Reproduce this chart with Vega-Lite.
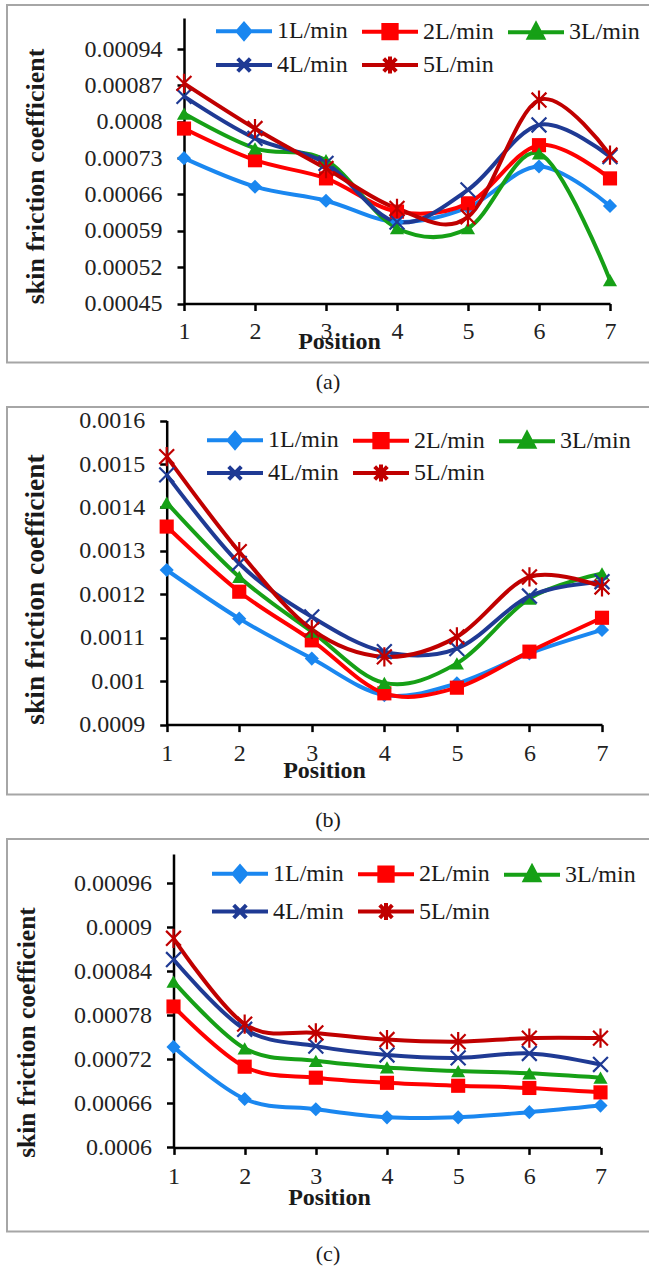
{
  "$schema": "https://vega.github.io/schema/vega-lite/v6.json",
  "background": "white",
  "padding": {"left": 6, "top": 4, "right": 0, "bottom": 0},
  "config": {
    "font": "Liberation Serif",
    "axis": {
      "grid": false,
      "domainColor": "#000000",
      "domainWidth": 2.5,
      "tickColor": "#000000",
      "tickWidth": 2.5,
      "tickSize": 7,
      "labelFont": "Liberation Serif",
      "labelFontSize": 24,
      "labelColor": "#222222",
      "labelOverlap": false,
      "labelFlush": false,
      "titleFont": "Liberation Serif",
      "titleFontWeight": "bold",
      "titleColor": "#1a1a1a",
      "titleAlign": "center",
      "titleBaseline": "middle"
    },
    "legend": {
      "labelFont": "Liberation Serif",
      "labelFontSize": 24,
      "labelColor": "#1a1a1a",
      "labelLimit": 0,
      "labelOffset": 21,
      "symbolSize": 196,
      "symbolOffset": 21,
      "symbolStrokeWidth": 4,
      "symbolOpacity": 1,
      "symbolFillColor": "#000000",
      "symbolStrokeColor": "#000000",
      "columnPadding": 6
    }
  },
  "data": {
    "values": [
      {"panel": "a", "pos": 1, "series": "1L/min", "value": 0.00073},
      {"panel": "a", "pos": 2, "series": "1L/min", "value": 0.000675},
      {"panel": "a", "pos": 3, "series": "1L/min", "value": 0.000648},
      {"panel": "a", "pos": 4, "series": "1L/min", "value": 0.000607},
      {"panel": "a", "pos": 5, "series": "1L/min", "value": 0.000635},
      {"panel": "a", "pos": 6, "series": "1L/min", "value": 0.000714},
      {"panel": "a", "pos": 7, "series": "1L/min", "value": 0.000638},
      {"panel": "a", "pos": 1, "series": "2L/min", "value": 0.000787},
      {"panel": "a", "pos": 2, "series": "2L/min", "value": 0.000726},
      {"panel": "a", "pos": 3, "series": "2L/min", "value": 0.000691},
      {"panel": "a", "pos": 4, "series": "2L/min", "value": 0.000627},
      {"panel": "a", "pos": 5, "series": "2L/min", "value": 0.000643},
      {"panel": "a", "pos": 6, "series": "2L/min", "value": 0.000755},
      {"panel": "a", "pos": 7, "series": "2L/min", "value": 0.000691},
      {"panel": "a", "pos": 1, "series": "3L/min", "value": 0.000816},
      {"panel": "a", "pos": 2, "series": "3L/min", "value": 0.000749},
      {"panel": "a", "pos": 3, "series": "3L/min", "value": 0.000726},
      {"panel": "a", "pos": 4, "series": "3L/min", "value": 0.000595},
      {"panel": "a", "pos": 5, "series": "3L/min", "value": 0.000595},
      {"panel": "a", "pos": 6, "series": "3L/min", "value": 0.000739},
      {"panel": "a", "pos": 7, "series": "3L/min", "value": 0.000495},
      {"panel": "a", "pos": 1, "series": "4L/min", "value": 0.000849},
      {"panel": "a", "pos": 2, "series": "4L/min", "value": 0.000768},
      {"panel": "a", "pos": 3, "series": "4L/min", "value": 0.00072},
      {"panel": "a", "pos": 4, "series": "4L/min", "value": 0.000607},
      {"panel": "a", "pos": 5, "series": "4L/min", "value": 0.000669},
      {"panel": "a", "pos": 6, "series": "4L/min", "value": 0.000794},
      {"panel": "a", "pos": 7, "series": "4L/min", "value": 0.000733},
      {"panel": "a", "pos": 1, "series": "5L/min", "value": 0.000874},
      {"panel": "a", "pos": 2, "series": "5L/min", "value": 0.000787},
      {"panel": "a", "pos": 3, "series": "5L/min", "value": 0.00071},
      {"panel": "a", "pos": 4, "series": "5L/min", "value": 0.000633},
      {"panel": "a", "pos": 5, "series": "5L/min", "value": 0.000617},
      {"panel": "a", "pos": 6, "series": "5L/min", "value": 0.000842},
      {"panel": "a", "pos": 7, "series": "5L/min", "value": 0.000736},
      {"panel": "b", "pos": 1, "series": "1L/min", "value": 0.001256},
      {"panel": "b", "pos": 2, "series": "1L/min", "value": 0.001144},
      {"panel": "b", "pos": 3, "series": "1L/min", "value": 0.001052},
      {"panel": "b", "pos": 4, "series": "1L/min", "value": 0.000968},
      {"panel": "b", "pos": 5, "series": "1L/min", "value": 0.000995},
      {"panel": "b", "pos": 6, "series": "1L/min", "value": 0.001064},
      {"panel": "b", "pos": 7, "series": "1L/min", "value": 0.001118},
      {"panel": "b", "pos": 1, "series": "2L/min", "value": 0.001356},
      {"panel": "b", "pos": 2, "series": "2L/min", "value": 0.001206},
      {"panel": "b", "pos": 3, "series": "2L/min", "value": 0.001094},
      {"panel": "b", "pos": 4, "series": "2L/min", "value": 0.000972},
      {"panel": "b", "pos": 5, "series": "2L/min", "value": 0.000985},
      {"panel": "b", "pos": 6, "series": "2L/min", "value": 0.001068},
      {"panel": "b", "pos": 7, "series": "2L/min", "value": 0.001146},
      {"panel": "b", "pos": 1, "series": "3L/min", "value": 0.001411},
      {"panel": "b", "pos": 2, "series": "3L/min", "value": 0.00124},
      {"panel": "b", "pos": 3, "series": "3L/min", "value": 0.001114},
      {"panel": "b", "pos": 4, "series": "3L/min", "value": 0.000996},
      {"panel": "b", "pos": 5, "series": "3L/min", "value": 0.001041},
      {"panel": "b", "pos": 6, "series": "3L/min", "value": 0.00119},
      {"panel": "b", "pos": 7, "series": "3L/min", "value": 0.001248},
      {"panel": "b", "pos": 1, "series": "4L/min", "value": 0.001475},
      {"panel": "b", "pos": 2, "series": "4L/min", "value": 0.001271},
      {"panel": "b", "pos": 3, "series": "4L/min", "value": 0.001148},
      {"panel": "b", "pos": 4, "series": "4L/min", "value": 0.001068},
      {"panel": "b", "pos": 5, "series": "4L/min", "value": 0.001075},
      {"panel": "b", "pos": 6, "series": "4L/min", "value": 0.001196},
      {"panel": "b", "pos": 7, "series": "4L/min", "value": 0.001229},
      {"panel": "b", "pos": 1, "series": "5L/min", "value": 0.001517},
      {"panel": "b", "pos": 2, "series": "5L/min", "value": 0.001298},
      {"panel": "b", "pos": 3, "series": "5L/min", "value": 0.001119},
      {"panel": "b", "pos": 4, "series": "5L/min", "value": 0.001056},
      {"panel": "b", "pos": 5, "series": "5L/min", "value": 0.001102},
      {"panel": "b", "pos": 6, "series": "5L/min", "value": 0.00124},
      {"panel": "b", "pos": 7, "series": "5L/min", "value": 0.001217},
      {"panel": "c", "pos": 1, "series": "1L/min", "value": 0.000737},
      {"panel": "c", "pos": 2, "series": "1L/min", "value": 0.000666},
      {"panel": "c", "pos": 3, "series": "1L/min", "value": 0.000652},
      {"panel": "c", "pos": 4, "series": "1L/min", "value": 0.000641},
      {"panel": "c", "pos": 5, "series": "1L/min", "value": 0.000641},
      {"panel": "c", "pos": 6, "series": "1L/min", "value": 0.000648},
      {"panel": "c", "pos": 7, "series": "1L/min", "value": 0.000657},
      {"panel": "c", "pos": 1, "series": "2L/min", "value": 0.000792},
      {"panel": "c", "pos": 2, "series": "2L/min", "value": 0.00071},
      {"panel": "c", "pos": 3, "series": "2L/min", "value": 0.000695},
      {"panel": "c", "pos": 4, "series": "2L/min", "value": 0.000688},
      {"panel": "c", "pos": 5, "series": "2L/min", "value": 0.000684},
      {"panel": "c", "pos": 6, "series": "2L/min", "value": 0.000681},
      {"panel": "c", "pos": 7, "series": "2L/min", "value": 0.000675},
      {"panel": "c", "pos": 1, "series": "3L/min", "value": 0.000826},
      {"panel": "c", "pos": 2, "series": "3L/min", "value": 0.000735},
      {"panel": "c", "pos": 3, "series": "3L/min", "value": 0.000718},
      {"panel": "c", "pos": 4, "series": "3L/min", "value": 0.000709},
      {"panel": "c", "pos": 5, "series": "3L/min", "value": 0.000704},
      {"panel": "c", "pos": 6, "series": "3L/min", "value": 0.000701},
      {"panel": "c", "pos": 7, "series": "3L/min", "value": 0.000695},
      {"panel": "c", "pos": 1, "series": "4L/min", "value": 0.000856},
      {"panel": "c", "pos": 2, "series": "4L/min", "value": 0.000761},
      {"panel": "c", "pos": 3, "series": "4L/min", "value": 0.000738},
      {"panel": "c", "pos": 4, "series": "4L/min", "value": 0.000726},
      {"panel": "c", "pos": 5, "series": "4L/min", "value": 0.000722},
      {"panel": "c", "pos": 6, "series": "4L/min", "value": 0.000728},
      {"panel": "c", "pos": 7, "series": "4L/min", "value": 0.000713},
      {"panel": "c", "pos": 1, "series": "5L/min", "value": 0.000885},
      {"panel": "c", "pos": 2, "series": "5L/min", "value": 0.000768},
      {"panel": "c", "pos": 3, "series": "5L/min", "value": 0.000756},
      {"panel": "c", "pos": 4, "series": "5L/min", "value": 0.000747},
      {"panel": "c", "pos": 5, "series": "5L/min", "value": 0.000744},
      {"panel": "c", "pos": 6, "series": "5L/min", "value": 0.000749},
      {"panel": "c", "pos": 7, "series": "5L/min", "value": 0.000749}
    ]
  },
  "spacing": 44,
  "bounds": "flush",
  "resolve": {
    "scale": {"x": "independent", "y": "independent", "color": "independent", "shape": "independent"},
    "axis": {"x": "independent", "y": "independent"},
    "legend": {"color": "independent", "shape": "independent"}
  },
  "vconcat": [
    {
      "width": 642,
      "height": 357.5,
      "view": {"stroke": "#a6a6a6", "strokeWidth": 2, "strokeDash": [642, 357.5, 999.5]},
      "title": {"text": "(a)", "orient": "bottom", "frame": "group", "anchor": "middle", "offset": 9, "font": "Liberation Serif", "fontSize": 22, "fontWeight": "normal", "color": "#1a1a1a"},
      "transform": [{"filter": "datum.panel === 'a'"}],
      "encoding": {
        "x": {"field": "pos", "type": "quantitative", "scale": {"domain": [1, 7], "range": [177, 603]},
          "axis": {"orient": "bottom", "offset": -59, "values": [1, 2, 3, 4, 5, 6, 7], "format": "d", "labelPadding": 9,
            "title": "Position", "titleX": 332, "titleY": 38, "titleFontSize": 24}},
        "y": {"field": "value", "type": "quantitative", "scale": {"domain": [0.00045, 0.001], "range": [298.5, 13], "nice": false, "zero": false},
          "axis": {"orient": "left", "offset": -177, "values": [0.00045, 0.00052, 0.00059, 0.00066, 0.00073, 0.0008, 0.00087, 0.00094], "format": "~g", "labelPadding": 15,
            "title": "skin friction coefficient", "titleAngle": 270, "titleX": -149, "titleY": 171, "titleFontSize": 26}}
      },
      "layer": [
        {"mark": {"type": "line", "interpolate": "cardinal", "strokeWidth": 4},
          "encoding": {"color": {"field": "series", "type": "nominal",
            "scale": {"domain": ["1L/min", "2L/min", "3L/min", "4L/min", "5L/min"], "range": ["#1a87f0", "#ff0000", "#16a016", "#1f3a94", "#c00000"]},
            "legend": {"orient": "none", "legendX": 204, "legendY": 14, "columns": 3, "direction": "horizontal", "title": null, "rowPadding": 1}}}},
        {"mark": {"type": "point", "filled": true, "opacity": 0, "size": 10},
          "encoding": {
            "color": {"field": "series", "type": "nominal",
              "scale": {"domain": ["1L/min", "2L/min", "3L/min", "4L/min", "5L/min"], "range": ["#1a87f0", "#ff0000", "#16a016", "#1f3a94", "#c00000"]},
              "legend": {"orient": "none", "legendX": 204, "legendY": 14, "columns": 3, "direction": "horizontal", "title": null, "rowPadding": 1}},
            "shape": {"field": "series", "type": "nominal",
              "scale": {"domain": ["1L/min", "2L/min", "3L/min", "4L/min", "5L/min"], "range": ["M-4,0H4M0,-1.05L0.9,0L0,1.05L-0.9,0Z", "M-4,0H4M-0.95,-0.95H0.95V0.95H-0.95Z", "M-4,0H4M0,-1.1L1,0.8H-1Z", "M-4,0H4M-0.9,-0.9L0.9,0.9M-0.9,0.9L0.9,-0.9", "M-4,0H4M-0.9,-0.9L0.9,0.9M-0.9,0.9L0.9,-0.9M0,-1.2V1.2"]},
              "legend": {"orient": "none", "legendX": 204, "legendY": 14, "columns": 3, "direction": "horizontal", "title": null, "rowPadding": 1}}
          }},
        {"transform": [{"filter": "datum.series === '1L/min'"}], "mark": {"type": "point", "shape": "diamond", "filled": true, "color": "#1a87f0", "size": 200, "opacity": 1}},
        {"transform": [{"filter": "datum.series === '2L/min'"}], "mark": {"type": "point", "shape": "square", "filled": true, "color": "#ff0000", "size": 200, "opacity": 1}},
        {"transform": [{"filter": "datum.series === '3L/min'"}], "mark": {"type": "point", "shape": "triangle-up", "filled": true, "color": "#16a016", "size": 200, "opacity": 1}},
        {"transform": [{"filter": "datum.series === '4L/min'"}], "mark": {"type": "point", "shape": "M-1,-1L1,1M-1,1L1,-1", "filled": false, "color": "#1f3a94", "size": 220, "strokeWidth": 2.2, "opacity": 1}},
        {"transform": [{"filter": "datum.series === '5L/min'"}], "mark": {"type": "point", "shape": "M-1,-1L1,1M-1,1L1,-1M0,-1.3V1.3", "filled": false, "color": "#c00000", "size": 220, "strokeWidth": 2.2, "opacity": 1}}
      ]
    },
    {
      "width": 642,
      "height": 387.6,
      "view": {"stroke": "#a6a6a6", "strokeWidth": 2, "strokeDash": [642, 387.6, 1029.6]},
      "title": {"text": "(b)", "orient": "bottom", "frame": "group", "anchor": "middle", "offset": 15, "font": "Liberation Serif", "fontSize": 22, "fontWeight": "normal", "color": "#1a1a1a"},
      "transform": [{"filter": "datum.panel === 'b'"}],
      "encoding": {
        "x": {"field": "pos", "type": "quantitative", "scale": {"domain": [1, 7], "range": [159.7, 595]},
          "axis": {"orient": "bottom", "offset": -70, "values": [1, 2, 3, 4, 5, 6, 7], "format": "d", "labelPadding": 10,
            "title": "Position", "titleX": 317, "titleY": 46, "titleFontSize": 24}},
        "y": {"field": "value", "type": "quantitative", "scale": {"domain": [0.0009, 0.0016], "range": [317.6, 13.6], "nice": false, "zero": false},
          "axis": {"orient": "left", "offset": -159.7, "values": [0.0009, 0.001, 0.0011, 0.0012, 0.0013, 0.0014, 0.0015, 0.0016], "format": "~g", "labelPadding": 15,
            "title": "skin friction coefficient", "titleAngle": 270, "titleX": -131, "titleY": 182, "titleFontSize": 27.5}}
      },
      "layer": [
        {"mark": {"type": "line", "interpolate": "cardinal", "strokeWidth": 4},
          "encoding": {"color": {"field": "series", "type": "nominal",
            "scale": {"domain": ["1L/min", "2L/min", "3L/min", "4L/min", "5L/min"], "range": ["#1a87f0", "#ff0000", "#16a016", "#1f3a94", "#c00000"]},
            "legend": {"orient": "none", "legendX": 195, "legendY": 21, "columns": 3, "direction": "horizontal", "title": null, "rowPadding": 0}}}},
        {"mark": {"type": "point", "filled": true, "opacity": 0, "size": 10},
          "encoding": {
            "color": {"field": "series", "type": "nominal",
              "scale": {"domain": ["1L/min", "2L/min", "3L/min", "4L/min", "5L/min"], "range": ["#1a87f0", "#ff0000", "#16a016", "#1f3a94", "#c00000"]},
              "legend": {"orient": "none", "legendX": 195, "legendY": 21, "columns": 3, "direction": "horizontal", "title": null, "rowPadding": 0}},
            "shape": {"field": "series", "type": "nominal",
              "scale": {"domain": ["1L/min", "2L/min", "3L/min", "4L/min", "5L/min"], "range": ["M-4,0H4M0,-1.05L0.9,0L0,1.05L-0.9,0Z", "M-4,0H4M-0.95,-0.95H0.95V0.95H-0.95Z", "M-4,0H4M0,-1.1L1,0.8H-1Z", "M-4,0H4M-0.9,-0.9L0.9,0.9M-0.9,0.9L0.9,-0.9", "M-4,0H4M-0.9,-0.9L0.9,0.9M-0.9,0.9L0.9,-0.9M0,-1.2V1.2"]},
              "legend": {"orient": "none", "legendX": 195, "legendY": 21, "columns": 3, "direction": "horizontal", "title": null, "rowPadding": 0}}
          }},
        {"transform": [{"filter": "datum.series === '1L/min'"}], "mark": {"type": "point", "shape": "diamond", "filled": true, "color": "#1a87f0", "size": 200, "opacity": 1}},
        {"transform": [{"filter": "datum.series === '2L/min'"}], "mark": {"type": "point", "shape": "square", "filled": true, "color": "#ff0000", "size": 200, "opacity": 1}},
        {"transform": [{"filter": "datum.series === '3L/min'"}], "mark": {"type": "point", "shape": "triangle-up", "filled": true, "color": "#16a016", "size": 200, "opacity": 1}},
        {"transform": [{"filter": "datum.series === '4L/min'"}], "mark": {"type": "point", "shape": "M-1,-1L1,1M-1,1L1,-1", "filled": false, "color": "#1f3a94", "size": 220, "strokeWidth": 2.2, "opacity": 1}},
        {"transform": [{"filter": "datum.series === '5L/min'"}], "mark": {"type": "point", "shape": "M-1,-1L1,1M-1,1L1,-1M0,-1.3V1.3", "filled": false, "color": "#c00000", "size": 220, "strokeWidth": 2.2, "opacity": 1}}
      ]
    },
    {
      "width": 642,
      "height": 392.4,
      "view": {"stroke": "#a6a6a6", "strokeWidth": 2, "strokeDash": [642, 392.4, 1034.4]},
      "title": {"text": "(c)", "orient": "bottom", "frame": "group", "anchor": "middle", "offset": 13, "font": "Liberation Serif", "fontSize": 22, "fontWeight": "normal", "color": "#1a1a1a"},
      "transform": [{"filter": "datum.panel === 'c'"}],
      "encoding": {
        "x": {"field": "pos", "type": "quantitative", "scale": {"domain": [1, 7], "range": [166.5, 593.5]},
          "axis": {"orient": "bottom", "offset": -84, "values": [1, 2, 3, 4, 5, 6, 7], "format": "d", "labelPadding": 10,
            "title": "Position", "titleX": 322, "titleY": 50, "titleFontSize": 24}},
        "y": {"field": "value", "type": "quantitative", "scale": {"domain": [0.0006, 0.001], "range": [308.4, 14.9], "nice": false, "zero": false},
          "axis": {"orient": "left", "offset": -166.5, "values": [0.0006, 0.00066, 0.00072, 0.00078, 0.00084, 0.0009, 0.00096], "format": "~g", "labelPadding": 15,
            "title": "skin friction coefficient", "titleAngle": 270, "titleX": -147.5, "titleY": 193, "titleFontSize": 25.5}}
      },
      "layer": [
        {"mark": {"type": "line", "interpolate": "cardinal", "strokeWidth": 4},
          "encoding": {"color": {"field": "series", "type": "nominal",
            "scale": {"domain": ["1L/min", "2L/min", "3L/min", "4L/min", "5L/min"], "range": ["#1a87f0", "#ff0000", "#16a016", "#1f3a94", "#c00000"]},
            "legend": {"orient": "none", "legendX": 200, "legendY": 22.5, "columns": 3, "direction": "horizontal", "title": null, "rowPadding": 5}}}},
        {"mark": {"type": "point", "filled": true, "opacity": 0, "size": 10},
          "encoding": {
            "color": {"field": "series", "type": "nominal",
              "scale": {"domain": ["1L/min", "2L/min", "3L/min", "4L/min", "5L/min"], "range": ["#1a87f0", "#ff0000", "#16a016", "#1f3a94", "#c00000"]},
              "legend": {"orient": "none", "legendX": 200, "legendY": 22.5, "columns": 3, "direction": "horizontal", "title": null, "rowPadding": 5}},
            "shape": {"field": "series", "type": "nominal",
              "scale": {"domain": ["1L/min", "2L/min", "3L/min", "4L/min", "5L/min"], "range": ["M-4,0H4M0,-1.05L0.9,0L0,1.05L-0.9,0Z", "M-4,0H4M-0.95,-0.95H0.95V0.95H-0.95Z", "M-4,0H4M0,-1.1L1,0.8H-1Z", "M-4,0H4M-0.9,-0.9L0.9,0.9M-0.9,0.9L0.9,-0.9", "M-4,0H4M-0.9,-0.9L0.9,0.9M-0.9,0.9L0.9,-0.9M0,-1.2V1.2"]},
              "legend": {"orient": "none", "legendX": 200, "legendY": 22.5, "columns": 3, "direction": "horizontal", "title": null, "rowPadding": 5}}
          }},
        {"transform": [{"filter": "datum.series === '1L/min'"}], "mark": {"type": "point", "shape": "diamond", "filled": true, "color": "#1a87f0", "size": 200, "opacity": 1}},
        {"transform": [{"filter": "datum.series === '2L/min'"}], "mark": {"type": "point", "shape": "square", "filled": true, "color": "#ff0000", "size": 200, "opacity": 1}},
        {"transform": [{"filter": "datum.series === '3L/min'"}], "mark": {"type": "point", "shape": "triangle-up", "filled": true, "color": "#16a016", "size": 200, "opacity": 1}},
        {"transform": [{"filter": "datum.series === '4L/min'"}], "mark": {"type": "point", "shape": "M-1,-1L1,1M-1,1L1,-1", "filled": false, "color": "#1f3a94", "size": 220, "strokeWidth": 2.2, "opacity": 1}},
        {"transform": [{"filter": "datum.series === '5L/min'"}], "mark": {"type": "point", "shape": "M-1,-1L1,1M-1,1L1,-1M0,-1.3V1.3", "filled": false, "color": "#c00000", "size": 220, "strokeWidth": 2.2, "opacity": 1}}
      ]
    }
  ]
}
